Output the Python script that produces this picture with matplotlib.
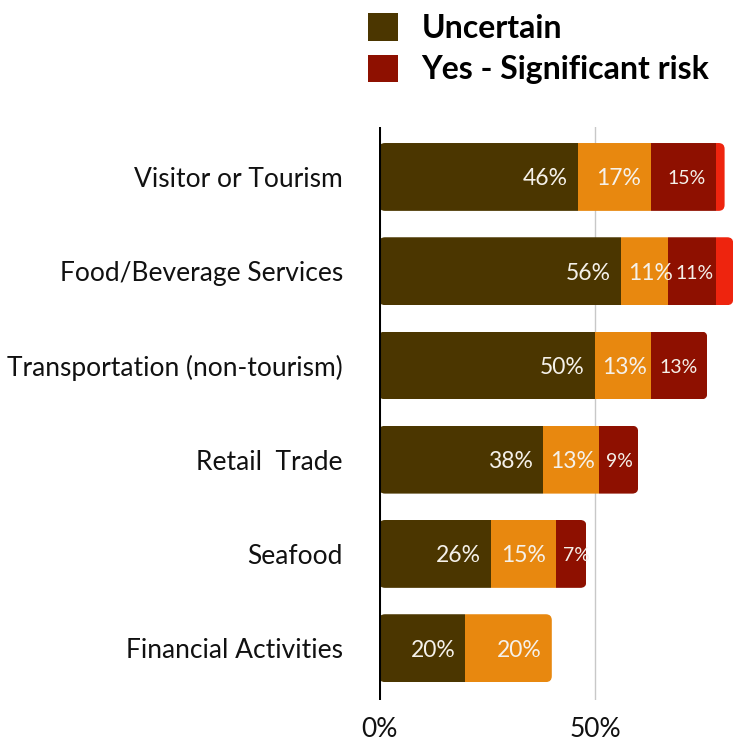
import matplotlib
matplotlib.use("Agg")
import matplotlib.pyplot as plt
from matplotlib.patches import Patch, FancyBboxPatch
from matplotlib.transforms import offset_copy
import numpy as np

categories = ["Visitor or Tourism", "Food/Beverage Services", "Transportation (non-tourism)",
              "Retail  Trade", "Seafood", "Financial Activities"]
uncertain = [46, 56, 50, 38, 26, 20]
moderate = [17, 11, 13, 13, 15, 20]
significant = [15, 11, 13, 9, 7, 0]
extreme = [2, 4, 0, 0, 0, 0]
series = [uncertain, moderate, significant, extreme]
series_names = ["Uncertain", "Moderate", "Yes - Significant risk", "Extreme"]
colors = ["#4B3600", "#E8880F", "#8E1000", "#EE240E"]
tick_vals = [0, 50]
tick_labels = ["0%", "50%"]

plt.rcParams['font.family'] = ['Lato', 'DejaVu Sans']

W, H = 734, 744
fig = plt.figure(figsize=(W / 100, H / 100), dpi=100)
ax_left, ax_right, ax_top, ax_bottom = 379, 734, 127, 700
ax = fig.add_axes([ax_left / W, 1 - ax_bottom / H, (ax_right - ax_left) / W, (ax_bottom - ax_top) / H])

n = len(categories)
y = np.arange(n)
bar_h = 0.72
px_per_x = 4.32
ax.set_xlim(0, (ax_right - ax_left) / px_per_x)
ax.set_ylim(n - 1 + 0.55, -0.53)

ax.axvline(50, color="#c8c8c8", lw=1, zorder=0)

totals = np.sum(np.array(series), axis=0)
pxy = (ax_bottom - ax_top) / (n - 1 + 0.55 + 0.53)
aspect = px_per_x / pxy
r_x = 6 / px_per_x

clips = []
for i in range(n):
    fb = FancyBboxPatch((0, y[i] - bar_h / 2), totals[i], bar_h,
                        boxstyle=f"round,pad=0,rounding_size={r_x}",
                        mutation_aspect=aspect, transform=ax.transData)
    clips.append(fb)

left = np.zeros(n)
bars_all = []
for s, c in zip(series, colors):
    vals = np.array(s, dtype=float)
    bars = ax.barh(y, vals, left=left, height=bar_h, color=c, linewidth=0, zorder=2)
    for i, b in enumerate(bars):
        b.set_clip_path(clips[i])
    bars_all.append((vals, left.copy()))
    left = left + vals

ax.axvline(0, color="black", lw=2.2, zorder=3)

fig.canvas.draw()
renderer = fig.canvas.get_renderer()
label_sizes = [16.5, 16.5, 14, 14]
for si, (vals, lefts) in enumerate(bars_all[:3]):
    for i in range(n):
        v = vals[i]
        if v <= 0:
            continue
        start = lefts[i]
        end = lefts[i] + v
        t = ax.text(end, y[i] + 0.02, f"{int(v)}%", ha="right", va="center",
                    color="#f5f1ea", fontsize=label_sizes[si], fontweight="normal",
                    transform=offset_copy(ax.transData, fig=fig, x=-10, y=0, units="dots"),
                    zorder=5)
        bb = t.get_window_extent(renderer)
        seg_px = (end - start) * px_per_x
        if bb.width + 17 > seg_px:
            t.set_ha("left")
            t.set_x(start)
            t.set_transform(offset_copy(ax.transData, fig=fig, x=7, y=0, units="dots"))
            t.set_clip_path(clips[i])

ax.set_yticks(y)
ax.set_yticklabels(categories, fontsize=19, color="#111111")
ax.set_xticks(tick_vals)
ax.set_xticklabels(tick_labels, fontsize=19, color="#111111")
ax.tick_params(axis="both", length=0)
ax.tick_params(axis="y", pad=26)
ax.tick_params(axis="x", pad=12)
for sp in ax.spines.values():
    sp.set_visible(False)

handles = [Patch(facecolor=colors[0]), Patch(facecolor=colors[2])]
fig.legend(handles, [series_names[0], series_names[2]], loc="upper left",
           bbox_to_anchor=(362 / W, 1 - 7 / H), frameon=False,
           prop={"family": ["Lato", "DejaVu Sans"], "weight": "bold", "size": 23},
           handlelength=0.94, handleheight=0.94, handletextpad=0.72,
           labelspacing=0.36, borderpad=0.2, borderaxespad=0)

fig.savefig("out.png", dpi=100)
